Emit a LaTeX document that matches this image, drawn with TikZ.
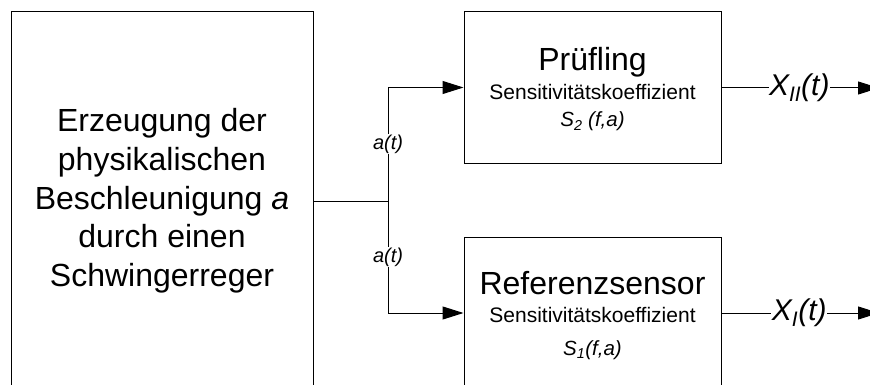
\documentclass[tikz,border=0pt]{standalone}
\usepackage{fontspec}
\setmainfont{Liberation Sans}
\usetikzlibrary{arrows.meta}

\begin{document}
\begin{tikzpicture}[x=1pt,y=-1pt,
  block/.style={draw, line width=1pt, inner sep=0pt},
  sig/.style={line width=1pt},
  tip/.style={-{Triangle[length=21pt,width=13pt]}},
  alabel/.style={fill=white, inner sep=0.5pt, font=\fontsize{20}{24}\selectfont\itshape},
  xlabel/.style={fill=white, inner sep=0.5pt, font=\fontsize{30}{36}\selectfont\itshape},
  title/.style={anchor=base, inner sep=0pt, font=\fontsize{32}{38}\selectfont},
  sub/.style={anchor=base, inner sep=0pt, font=\fontsize{21}{25}\selectfont},
  coef/.style={anchor=base, inner sep=0pt, font=\fontsize{20.5}{24}\selectfont\itshape},
]
\useasboundingbox (0,0) rectangle (870,385);
\clip (0,0) rectangle (870,385);

% source of the acceleration
\node[block, minimum width=302pt, minimum height=378pt, align=center,
      font=\fontsize{32}{38.7}\selectfont] (gen) at (162,201)
  {Erzeugung der\\physikalischen\\Beschleunigung \textit{a}\\durch einen\\Schwingerreger};

% device under test and reference sensor
\node[block, minimum width=257pt, minimum height=151pt] (dut) at (592.5,87.5) {};
\node[block, minimum width=257pt, minimum height=151pt] (ref) at (592.5,313) {};

\node[title] (dutT) at (592.5,71) {Prüfling};
\node[sub]   (dutS) at (592.5,100) {Sensitivitätskoeffizient};
\node[coef]  (dutC) at (592.5,127) {S\textsubscript{2} (f,a)};

\node[title] (refT) at (592.5,294) {Referenzsensor};
\node[sub]   (refS) at (592.5,322) {Sensitivitätskoeffizient};
\node[coef]  (refC) at (592.5,355) {S\textsubscript{1}(f,a)};

% signal distribution
\coordinate (split) at (388,201);
\coordinate (out2) at (879,88);
\coordinate (out1) at (879,313);

\draw[sig] (gen.east) -- (split);
\draw[sig,tip] (split) |- node[alabel, pos=0.25] {a(t)} (dut.west);
\draw[sig,tip] (split) |- node[alabel, pos=0.25] {a(t)} (ref.west);

% output signals
\draw[sig,tip] (dut.east |- out2) -- node[xlabel, pos=0.494] {X\textsubscript{II}(t)} (out2);
\draw[sig,tip] (ref.east |- out1) -- node[xlabel, pos=0.494] {X\textsubscript{I}(t)} (out1);
\end{tikzpicture}
\end{document}
